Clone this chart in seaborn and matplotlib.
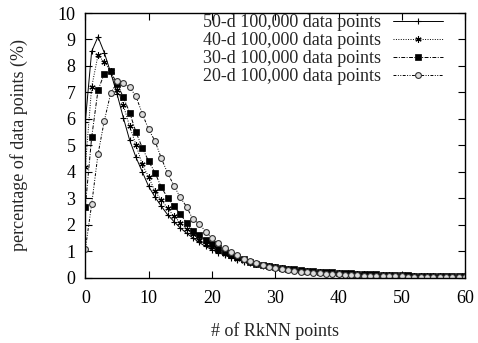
import numpy as np
import pandas as pd
import matplotlib
matplotlib.use("Agg")
import matplotlib.pyplot as plt
import seaborn as sns

# number of reverse k-nearest neighbours, 0..60
rknn = list(range(0, 61))

labels = [
    "50-d 100,000 data points",
    "40-d 100,000 data points",
    "30-d 100,000 data points",
    "20-d 100,000 data points",
]

pct_50d = [5.9, 8.55, 9.1, 8.5, 7.75, 6.95, 6.05, 5.2, 4.55, 4.0, 3.45,
           3.05, 2.7, 2.38, 2.12, 1.88, 1.68, 1.5, 1.33, 1.18,
           1.06, 0.95, 0.85, 0.76, 0.68, 0.61, 0.55, 0.5, 0.45, 0.41,
           0.37, 0.34, 0.31, 0.28, 0.26, 0.24, 0.22, 0.2, 0.18, 0.17,
           0.15, 0.14, 0.13, 0.12, 0.11, 0.1, 0.09, 0.09, 0.08, 0.07,
           0.07, 0.06, 0.06, 0.05, 0.05, 0.05, 0.04, 0.04, 0.04, 0.03, 0.03]

pct_40d = [4.2, 7.2, 8.4, 8.15, 7.8, 7.1, 6.52, 5.72, 5.02, 4.28, 3.81,
           3.26, 2.95, 2.62, 2.32, 2.08, 1.83, 1.65, 1.43, 1.28,
           1.14, 1.0, 0.9, 0.8, 0.72, 0.64, 0.58, 0.52, 0.47, 0.43,
           0.39, 0.35, 0.32, 0.29, 0.27, 0.25, 0.23, 0.21, 0.19, 0.18,
           0.16, 0.15, 0.14, 0.13, 0.12, 0.11, 0.1, 0.09, 0.09, 0.08,
           0.07, 0.07, 0.06, 0.06, 0.05, 0.05, 0.05, 0.04, 0.04, 0.04, 0.03]

pct_30d = [2.68, 5.3, 7.08, 7.71, 7.8, 7.32, 6.83, 6.24, 5.5, 4.91, 4.4,
           3.97, 3.42, 3.02, 2.7, 2.4, 2.08, 1.78, 1.6, 1.42,
           1.27, 1.07, 0.98, 0.86, 0.79, 0.69, 0.6, 0.53, 0.48, 0.45,
           0.42, 0.36, 0.33, 0.31, 0.29, 0.27, 0.25, 0.23, 0.21, 0.2,
           0.19, 0.17, 0.16, 0.15, 0.14, 0.13, 0.12, 0.11, 0.11, 0.1,
           0.09, 0.09, 0.08, 0.08, 0.07, 0.07, 0.06, 0.06, 0.06, 0.05, 0.05]

pct_20d = [1.07, 2.77, 4.66, 5.93, 6.96, 7.42, 7.34, 7.2, 6.85, 6.2, 5.6,
           5.17, 4.52, 3.95, 3.48, 3.03, 2.68, 2.2, 2.04, 1.74,
           1.5, 1.3, 1.12, 0.98, 0.85, 0.72, 0.62, 0.54, 0.47, 0.41,
           0.36, 0.32, 0.28, 0.25, 0.22, 0.2, 0.18, 0.16, 0.15, 0.13,
           0.12, 0.11, 0.1, 0.09, 0.08, 0.08, 0.07, 0.06, 0.06, 0.05,
           0.05, 0.04, 0.04, 0.04, 0.03, 0.03, 0.03, 0.03, 0.02, 0.02, 0.02]

series = [pct_50d, pct_40d, pct_30d, pct_20d]

frames = []
for lab, vals in zip(labels, series):
    frames.append(pd.DataFrame({"rknn": rknn, "pct": vals, "set": lab}))
df = pd.concat(frames, ignore_index=True)

sns.set_style("ticks")
plt.rcParams["font.family"] = ["Liberation Serif", "DejaVu Serif"]

FS = 13

fig = plt.figure(figsize=(4.78, 3.43), dpi=100)
ax = fig.add_axes([0.1785, 0.1905, 0.7945, 0.7715])

styles = {
    labels[0]: dict(linestyle="-", marker="+", markersize=5,
                    markerfacecolor="black", markeredgecolor="black",
                    markeredgewidth=0.8),
    labels[1]: dict(linestyle=(0, (1, 1.5)), marker=(6, 2, 0), markersize=4.5,
                    markerfacecolor="black", markeredgecolor="black",
                    markeredgewidth=0.8),
    labels[2]: dict(linestyle=(0, (4, 1.5, 1, 1.5)), marker="s", markersize=4,
                    markerfacecolor="black", markeredgecolor="black",
                    markeredgewidth=0.5),
    labels[3]: dict(linestyle=(0, (3, 1.5, 1, 1.5, 1, 1.5)), marker="o",
                    markersize=4.2, markerfacecolor="#dcdcdc",
                    markeredgecolor="#333333", markeredgewidth=0.8),
}

for lab in labels:
    sub = df[df["set"] == lab]
    sns.lineplot(data=sub, x="rknn", y="pct", ax=ax, color="black",
                 linewidth=0.7, label=lab, **styles[lab])

ax.set_xlim(0, 60)
ax.set_ylim(0, 10)
ax.set_xticks(range(0, 61, 10))
ax.set_yticks(range(0, 11, 1))
ax.tick_params(axis="both", direction="in", length=5, width=0.8, top=True,
               right=True, labelsize=FS, colors="black")
ax.tick_params(axis="x", pad=9)
ax.tick_params(axis="y", pad=7)
for s in ax.spines.values():
    s.set_linewidth(1.0)
    s.set_color("black")

ax.set_xlabel("# of RkNN points", fontsize=FS, labelpad=11)
ax.set_ylabel("percentage of data points (%)", fontsize=FS, labelpad=21)

leg = ax.legend(loc="upper right", bbox_to_anchor=(0.942, 0.997),
                frameon=False, markerfirst=False, fontsize=FS,
                handlelength=2.8, handletextpad=0.65, labelspacing=0.06,
                borderpad=0.0, borderaxespad=0.0)

fig.savefig("out.png", dpi=100)
